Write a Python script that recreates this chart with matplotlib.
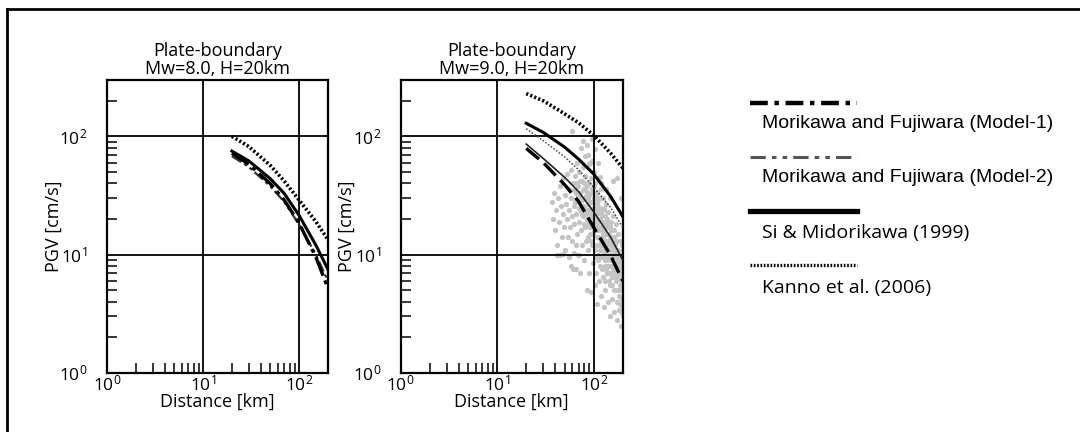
import matplotlib
matplotlib.use("Agg")
import matplotlib.pyplot as plt
from matplotlib.lines import Line2D
from matplotlib.ticker import LogLocator, NullFormatter

plt.rcParams['font.family'] = ['Open Sans', 'DejaVu Sans']
plt.rcParams['mathtext.fontset'] = 'custom'
plt.rcParams['mathtext.rm'] = 'Open Sans'
plt.rcParams['mathtext.it'] = 'Open Sans'

# distances of the model curves (km)
dist = [20, 30, 50, 70, 100, 150, 200]

# Mw=8.0 panel
m8_kanno = [100, 82, 57, 42, 29, 19, 13.4]
m8_si = [75, 62, 44, 33, 21.5, 12, 7.5]
m8_model1 = [72, 58, 40, 29, 18.5, 9.5, 5.2]
m8_model2 = [68, 55, 38, 28, 18, 10, 6]

# Mw=9.0 panel
m9_kanno = [230, 200, 155, 130, 102, 72, 54]
m9_si = [129, 108, 81, 64, 48, 31, 21]
m9_thin_dot = [116, 92, 67, 52, 37, 25, 17]
m9_thin_solid = [86, 65, 45, 34, 23, 14, 9]
m9_model1 = [79, 60, 39, 28, 17, 9.8, 6]

# observed PGV (grey dots) in Mw=9.0 panel
obs_dist = [37, 38, 39, 40, 41, 42, 43, 44, 45, 45, 46, 47, 48, 48, 49, 50, 51, 52, 53, 53,
            54, 55, 56, 56, 57, 58, 58, 59, 60, 61, 61, 62, 60, 63, 64, 65, 65, 66, 67, 67,
            68, 69, 70, 70, 71, 72, 72, 73, 74, 74, 75, 76, 76, 77, 78, 78, 79, 80, 80, 81,
            82, 82, 83, 84, 84, 85, 86, 86, 87, 88, 88, 89, 90, 90, 91, 92, 93, 93, 94, 95,
            95, 96, 97, 97, 98, 99, 100, 100, 101, 102, 102, 103, 104, 104, 105, 106, 106, 107, 108, 108,
            109, 110, 110, 111, 112, 113, 114, 115, 115, 116, 117, 118, 119, 120, 121, 122, 123, 124, 125, 126,
            127, 128, 129, 130, 131, 132, 134, 135, 136, 137, 138, 140, 141, 142, 143, 145, 146, 147, 148, 150,
            151, 152, 154, 155, 156, 158, 159, 160, 162, 163, 164, 166, 168, 169, 170, 172, 173, 175, 176, 178,
            179, 180, 182, 184, 185, 186, 188, 190, 191, 192, 194, 195, 197, 198, 199, 42, 48, 55, 62, 68,
            58, 66, 157, 173, 190, 88, 92, 118, 133, 147,
            62, 64, 66, 68, 70, 72, 74, 75, 77, 78, 80, 80, 82, 83, 85, 86, 87, 88, 89, 90,
            91, 92, 93, 94, 95, 96, 97, 98, 99, 100, 100, 101, 102, 103, 104, 105, 106, 107, 108, 109,
            110, 111, 112, 113, 114, 115, 116, 117, 118, 119, 120, 121, 122, 123, 124, 125, 126, 127, 128, 129,
            130, 131, 132, 133, 134, 135, 136, 138, 139, 140, 141, 142, 143, 144, 145, 147, 148, 149, 150, 151,
            153, 154, 155, 157, 158, 160, 161, 163, 164, 165, 167, 168, 170, 171, 172, 174, 176, 177, 178, 180,
            181, 183, 184, 185, 187, 188, 189, 190, 192, 193, 195, 196, 197, 198, 199, 199]
obs_pgv = [28, 20, 33, 16, 24, 12, 30, 19, 38, 10, 26, 14, 44, 22, 17, 32, 11, 27, 48, 20,
           14, 36, 24, 9.8, 17, 52, 30, 21, 13, 40, 7.5, 26, 112, 18, 46, 33, 12, 22, 60, 15,
           38, 28, 10, 19, 50, 7, 33, 24, 80, 16, 42, 12, 29, 21, 92, 55, 36, 9, 25, 17,
           68, 46, 31, 13, 22, 5, 84, 38, 27, 18, 11, 58, 32, 7, 23, 15, 44, 4.8, 28, 95,
           19, 12, 62, 36, 25, 8.5, 16, 50, 30, 21, 5.5, 11, 78, 40, 27, 18, 7, 14, 34, 3.8,
           23, 60, 10, 16, 29, 6, 20, 45, 12, 8, 25, 4.5, 17, 36, 13, 9.5, 21, 6.5, 30, 15,
           3.6, 11, 24, 8, 18, 5, 27, 13, 9.5, 20, 7, 15, 4, 23, 11, 8, 17, 5.5, 3, 19,
           12, 9, 6.5, 14, 4.2, 21, 10, 7.5, 16, 5, 3.3, 12, 8.5, 18, 6, 13, 4, 9.5, 2.8, 15,
           7, 11, 5, 3.4, 8.5, 13, 6.2, 10, 4.3, 2.5, 7.5, 12, 5.5, 3.2, 9, 10, 10.2, 9.6, 10.3, 9.9,
           8, 7.6, 42, 44, 30, 70, 60, 40, 36, 30,
           35, 28, 40, 31, 25, 42, 30, 22, 35, 26, 18, 40, 30, 24, 34, 20, 14, 30, 24, 40,
           17, 28, 21, 13, 33, 24, 18, 15, 28, 20, 12, 38, 25, 16, 9.5, 31, 22, 17, 12, 27,
           19, 14, 9, 24, 16, 11, 30, 20, 13, 9.5, 22, 16, 12, 7.5, 19, 14, 10, 25, 16, 12,
           9, 6, 21, 15, 10.5, 7.5, 17, 12, 9, 19, 13, 8, 6, 15, 11, 14, 9.5, 7, 16, 10,
           12, 8, 5.5, 13, 9.5, 11, 6.5, 14, 8.5, 10, 7, 5, 11, 8, 9.5, 6.5, 11, 5, 8, 9,
           6.5, 4.5, 10, 7, 5.5, 3.8, 8, 6.5, 9, 5, 3.6, 7, 4.2, 6, 3, 11]

legend_labels = ['Morikawa and Fujiwara (Model-1)', 'Morikawa and Fujiwara (Model-2)',
                 'Si & Midorikawa (1999)', 'Kanno et al. (2006)']

fig = plt.figure(figsize=(10.8, 4.32), dpi=100)
ax1 = fig.add_axes([0.099, 0.137, 0.2046, 0.678])
ax2 = fig.add_axes([0.371, 0.137, 0.2056, 0.678])

ax2.plot(obs_dist, obs_pgv, 'o', color='#c4c4c4', ms=3.8, mec='none', zorder=2)

dash1 = (0, (6, 1.5, 1.2, 1.5))
dash2 = (0, (5, 1.5, 1.5, 1.5, 1.5, 1.5))

ax1.plot(dist, m8_kanno, color='black', lw=2.6, ls=(0, (0.6, 0.6)), zorder=3)
ax1.plot(dist, m8_si, color='black', lw=2.2, zorder=3)
ax1.plot(dist, m8_model2, color='#333333', lw=1.6, ls=dash2, zorder=3)
ax1.plot(dist, m8_model1, color='black', lw=2.4, ls=dash1, zorder=3)

ax2.plot(dist, m9_kanno, color='black', lw=2.6, ls=(0, (0.6, 0.6)), zorder=3)
ax2.plot(dist, m9_si, color='black', lw=2.2, zorder=3)
ax2.plot(dist, m9_thin_dot, color='#444444', lw=1.1, ls=(0, (1, 1.2)), zorder=3)
ax2.plot(dist, m9_thin_solid, color='#222222', lw=1.2, zorder=3)
ax2.plot(dist, m9_model1, color='black', lw=2.4, ls=(0, (5, 2)), zorder=3)

titles = ['Plate-boundary\nMw=8.0, H=20km', 'Plate-boundary\nMw=9.0, H=20km']
for ax, t in zip([ax1, ax2], titles):
    ax.set_xscale('log')
    ax.set_yscale('log')
    ax.set_xlim(1, 200)
    ax.set_ylim(1, 300)
    ax.set_title(t, fontsize=13, linespacing=1.0, pad=4)
    ax.grid(True, which='major', color='black', lw=1.3)
    ax.set_axisbelow(False)
    for s in ax.spines.values():
        s.set_linewidth(1.6)
    ax.xaxis.set_major_locator(LogLocator(base=10, numticks=10))
    ax.yaxis.set_major_locator(LogLocator(base=10, numticks=10))
    ax.xaxis.set_minor_locator(LogLocator(base=10, subs=range(2, 10), numticks=10))
    ax.yaxis.set_minor_locator(LogLocator(base=10, subs=range(2, 10), numticks=10))
    ax.xaxis.set_minor_formatter(NullFormatter())
    ax.yaxis.set_minor_formatter(NullFormatter())
    ax.tick_params(which='major', length=0, labelsize=12.5)
    ax.tick_params(axis='y', which='major', pad=14)
    ax.tick_params(axis='x', which='major', pad=1)
    ax.tick_params(which='minor', direction='in', length=7, width=1.1)
    ax.set_xlabel('Distance [km]', fontsize=13)
    ax.set_ylabel('PGV [cm/s]', fontsize=13)
    ax.xaxis.set_label_coords(0.5, -0.068)
    ax.yaxis.set_label_coords(-0.2, 0.5)

# legend drawn by hand on the right
leg_styles = [dict(color='black', lw=3.2, ls=(0, (4, 1.5, 1, 1.5))),
              dict(color='#555555', lw=2.2, ls=(0, (5, 2, 1.5, 2, 1.5, 2))),
              dict(color='black', lw=3.8),
              dict(color='black', lw=2.4, ls=(0, (0.5, 0.5)))]
leg_line_y = [103, 157, 211, 265]
leg_text_y = [124, 178, 233, 288]
leg_fonts = ['Liberation Sans', 'Liberation Sans', 'Open Sans', 'Open Sans']
for st, ly, ty, lab, fam in zip(leg_styles, leg_line_y, leg_text_y, legend_labels, leg_fonts):
    fig.add_artist(Line2D([750 / 1080, 857 / 1080], [1 - ly / 432, 1 - ly / 432],
                          transform=fig.transFigure, **st))
    fig.text(762 / 1080, 1 - ty / 432, lab, family=fam, fontsize=14, va='center', ha='left')

# frame lines of the original figure
fig.add_artist(Line2D([7 / 1080, 7 / 1080], [0, 1 - 9 / 432], transform=fig.transFigure,
                      color='black', lw=2))
fig.add_artist(Line2D([7 / 1080, 1], [1 - 9 / 432, 1 - 9 / 432], transform=fig.transFigure,
                      color='black', lw=2))

fig.savefig('out.png', dpi=100)
